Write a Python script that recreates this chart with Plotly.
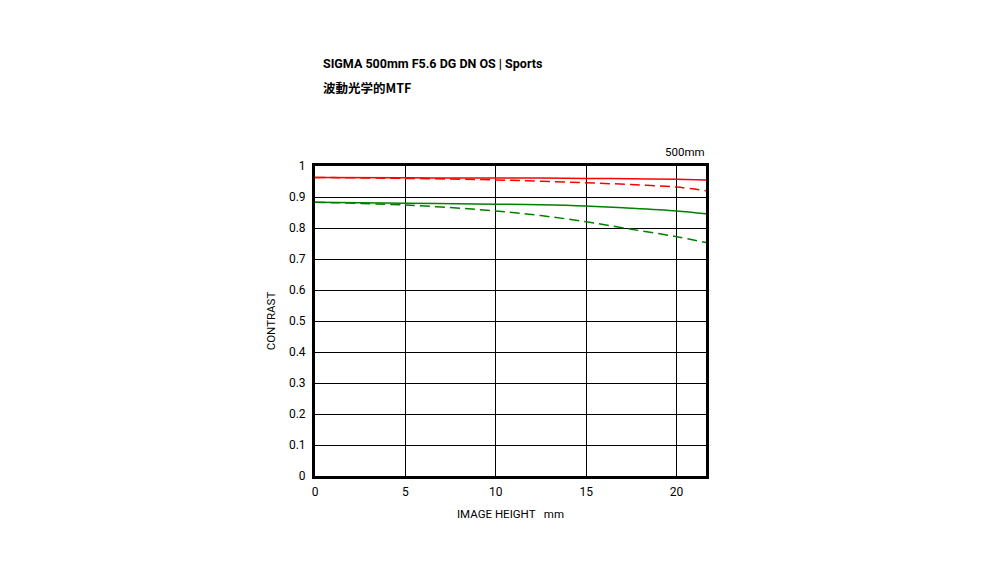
import plotly.graph_objects as go

x_pts = [0, 5, 10, 12.5, 15, 17.5, 20, 21.63]
red_solid = [0.963, 0.962, 0.961, 0.961, 0.960, 0.959, 0.957, 0.955]
red_dash = [0.963, 0.960, 0.955, 0.951, 0.946, 0.940, 0.932, 0.920]
green_solid = [0.883, 0.880, 0.877, 0.875, 0.871, 0.864, 0.855, 0.846]
green_dash = [0.883, 0.874, 0.855, 0.840, 0.820, 0.796, 0.772, 0.753]

x_ticks = [0, 5, 10, 15, 20]
y_ticks = [0, 0.1, 0.2, 0.3, 0.4, 0.5, 0.6, 0.7, 0.8, 0.9, 1]
y_labels = ["0", "0.1", "0.2", "0.3", "0.4", "0.5", "0.6", "0.7", "0.8", "0.9", "1"]

FONT = "Roboto"

# plot area in page pixels (page has 8px body margin)
L, R, T, B = 307, 302, 158, 103
PW, PH = 1000 - L - R, 571 - T - B

def px(xp):
    return (xp - 8 - L) / PW

def py(yp):
    return (571 - B - (yp - 8)) / PH

fig = go.Figure()
for ys, col, dash in [(red_solid, "#ff0000", "solid"), (red_dash, "#ff0000", "10px,5px"),
                      (green_solid, "#008000", "solid"), (green_dash, "#008000", "10px,5px")]:
    fig.add_trace(go.Scatter(x=x_pts, y=ys, mode="lines", line=dict(color=col, width=1.5, dash=dash, shape="spline"),
                             showlegend=False, hoverinfo="skip"))

fig.update_layout(
    width=1000, height=571,
    margin=dict(l=L, r=R, t=T, b=B),
    paper_bgcolor="white", plot_bgcolor="white",
    font=dict(family=FONT, color="black", size=11),
    xaxis=dict(range=[0, 21.63], tickvals=x_ticks, ticktext=[str(v) for v in x_ticks],
               showgrid=True, gridcolor="black", gridwidth=1, zeroline=False,
               showline=True, linecolor="black", linewidth=3, mirror=True,
               ticks="", tickfont=dict(size=12), ticklabelstandoff=3,
               title=dict(text="IMAGE HEIGHT   mm", font=dict(size=11.5), standoff=12)),
    yaxis=dict(range=[0, 1], tickvals=y_ticks, ticktext=y_labels,
               showgrid=True, gridcolor="black", gridwidth=1, zeroline=False,
               showline=True, linecolor="black", linewidth=3, mirror=True,
               ticks="", tickfont=dict(size=12), ticklabelstandoff=4,
               title=dict(text="CONTRAST", font=dict(size=11.5), standoff=11)),
    annotations=[
        dict(text="<b>SIGMA 500mm F5.6 DG DN OS | Sports</b>", xref="paper", yref="paper",
             x=px(321), y=py(63), xanchor="left", yanchor="middle",
             showarrow=False, font=dict(size=12.5, family=FONT)),
        dict(text="<b>波動光学的MTF</b>", xref="paper", yref="paper",
             x=px(321), y=py(88), xanchor="left", yanchor="middle",
             showarrow=False, font=dict(size=12.5, family="Noto Sans CJK JP")),
        dict(text="500mm", xref="paper", yref="paper", x=px(707), y=py(152),
             xanchor="right", yanchor="middle", showarrow=False, font=dict(size=11.5, family=FONT)),
    ],
)

fig.write_html("out.html")
